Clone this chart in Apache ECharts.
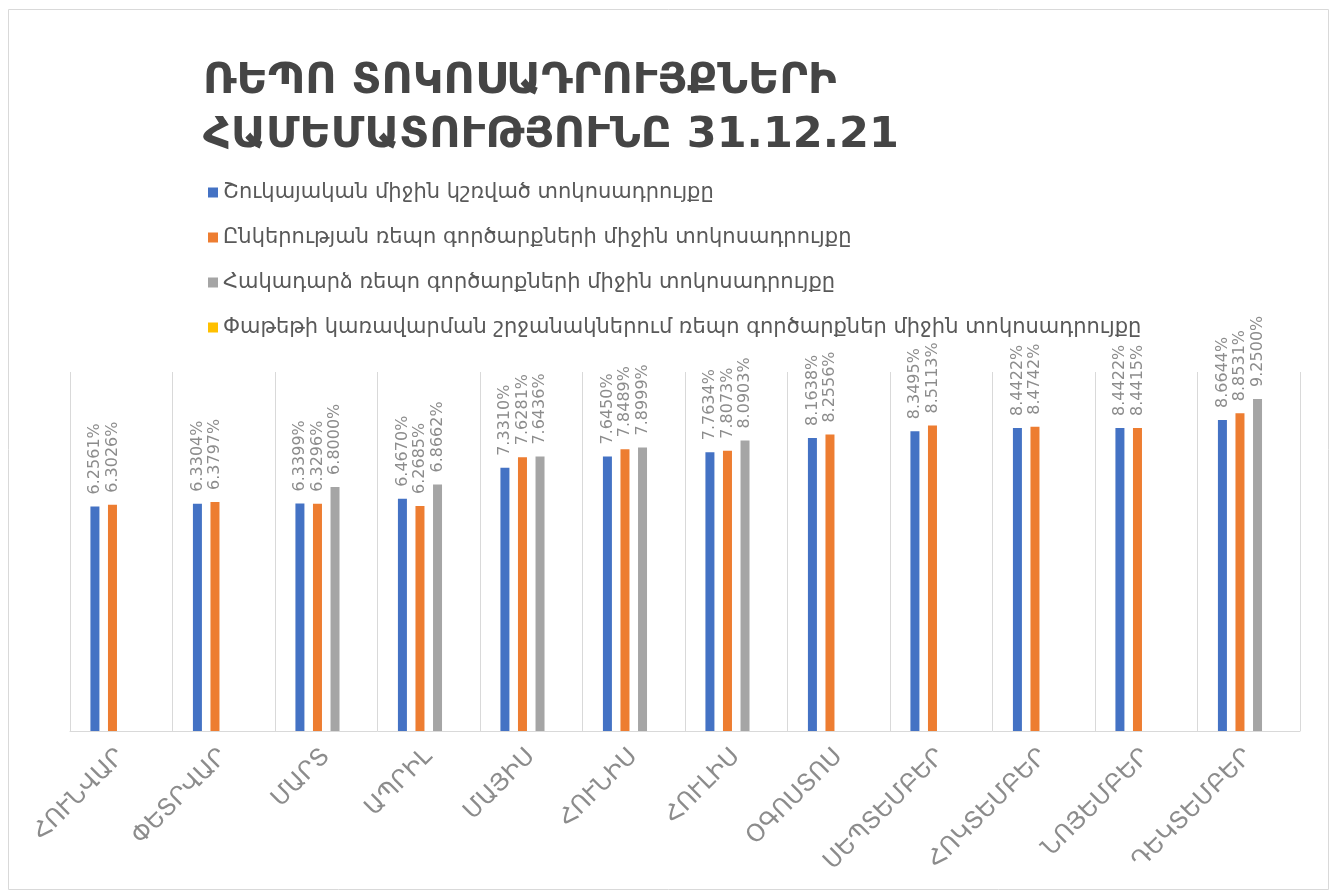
<!DOCTYPE html>
<html>
<head>
<meta charset="utf-8">
<script src="https://cdn.jsdelivr.net/npm/echarts@6/dist/echarts.min.js"></script>
<style>
  html, body { margin: 0; padding: 0; background: #ffffff; }
  #chart { width: 1337px; height: 892px; }
</style>
</head>
<body>
<div id="chart"></div>
<script>
// Months of 2021
const months = ['ՀՈՒՆՎԱՐ', 'ՓԵՏՐՎԱՐ', 'ՄԱՐՏ', 'ԱՊՐԻԼ', 'ՄԱՅԻՍ', 'ՀՈՒՆԻՍ',
                'ՀՈՒԼԻՍ', 'ՕԳՈՍՏՈՍ', 'ՍԵՊՏԵՄԲԵՐ', 'ՀՈԿՏԵՄԲԵՐ', 'ՆՈՅԵՄԲԵՐ', 'ԴԵԿՏԵՄԲԵՐ'];

const seriesNames = [
  'Շուկայական միջին կշռված տոկոսադրույքը',
  'Ընկերության ռեպո գործարքների միջին տոկոսադրույքը',
  'Հակադարձ ռեպո գործարքների միջին տոկոսադրույքը',
  'Փաթեթի կառավարման շրջանակներում ռեպո գործարքներ միջին տոկոսադրույքը'
];

// Rates, %
const marketRate   = [6.2561, 6.3304, 6.3399, 6.4670, 7.3310, 7.6450, 7.7634, 8.1638, 8.3495, 8.4422, 8.4422, 8.6644];
const companyRepo  = [6.3026, 6.3797, 6.3296, 6.2685, 7.6281, 7.8489, 7.8073, 8.2556, 8.5113, 8.4742, 8.4415, 8.8531];
const reverseRepo  = [null, null, 6.8000, 6.8662, 7.6436, 7.8999, 8.0903, null, null, null, null, 9.2500];
const portfolioRepo = [null, null, null, null, null, null, null, null, null, null, null, null];

const colors = ['#4472C4', '#ED7D31', '#A5A5A5', '#FFC000'];
const FONT = 'DejaVu Sans';

const chart = echarts.init(document.getElementById('chart'), null, { renderer: 'canvas' });

function barSeries(name, data) {
  return {
    name: name,
    type: 'bar',
    data: data,
    barWidth: 9,
    barGap: '95%',
    label: {
      show: true,
      position: 'top',
      rotate: 90,
      align: 'left',
      verticalAlign: 'middle',
      distance: 12,
      color: '#8c8c8c',
      fontFamily: FONT,
      fontSize: 16,
      formatter: p => (p.value == null ? '' : p.value.toFixed(4) + '%')
    }
  };
}

chart.setOption({
  color: colors,
  animation: false,
  title: {
    text: 'ՌԵՊՈ ՏՈԿՈՍԱԴՐՈՒՅՔՆԵՐԻ\nՀԱՄԵՄԱՏՈՒԹՅՈՒՆԸ 31.12.21',
    left: 198,
    top: 50,
    textStyle: {
      fontFamily: FONT,
      fontSize: 43,
      fontWeight: 'bold',
      lineHeight: 54,
      color: '#454545'
    }
  },
  legend: {
    orient: 'vertical',
    left: 203,
    top: 177,
    itemWidth: 10,
    itemHeight: 10,
    itemGap: 24,
    icon: 'rect',
    data: seriesNames,
    textStyle: { fontFamily: FONT, fontSize: 21, color: '#595959' }
  },
  graphic: [{
    type: 'rect',
    shape: { x: 8.5, y: 9.5, width: 1320, height: 880 },
    style: { fill: 'none', stroke: '#d9d9d9', lineWidth: 1 },
    silent: true
  }],
  grid: { left: 70, right: 37, top: 372, bottom: 161 },
  xAxis: {
    type: 'category',
    data: months,
    axisLine: { lineStyle: { color: '#d9d9d9' } },
    axisTick: { show: false },
    splitLine: { show: true, interval: 0, lineStyle: { color: '#d9d9d9' } },
    axisLabel: {
      interval: 0,
      rotate: 45,
      margin: 22,
      color: '#8c8c8c',
      fontFamily: FONT,
      fontSize: 24
    }
  },
  yAxis: {
    type: 'value',
    min: 0,
    max: 10,
    show: false,
    splitLine: { show: false }
  },
  series: [
    barSeries(seriesNames[0], marketRate),
    barSeries(seriesNames[1], companyRepo),
    barSeries(seriesNames[2], reverseRepo),
    barSeries(seriesNames[3], portfolioRepo)
  ]
});
</script>
</body>
</html>
